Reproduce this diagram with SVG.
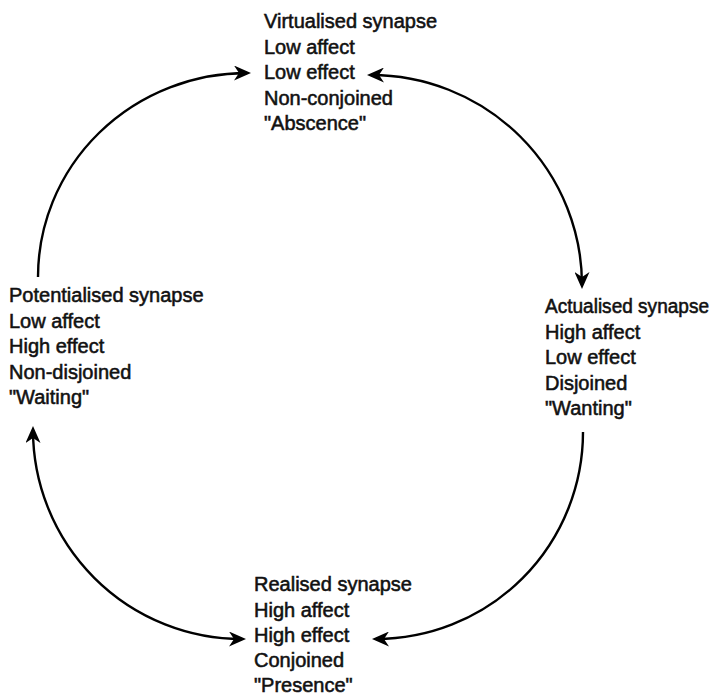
<svg xmlns="http://www.w3.org/2000/svg" width="714" height="696" viewBox="0 0 714 696">
<style>
.t{font-family:"Liberation Sans",Arial,sans-serif;font-size:20px;fill:#111;stroke:#111;stroke-width:0.55}
.c{fill:none;stroke:#000;stroke-width:2.4}
</style>
<defs>
<marker id="ah" viewBox="0 0 17 15" refX="13" refY="7.5" markerWidth="17" markerHeight="15" markerUnits="userSpaceOnUse" orient="auto-start-reverse">
<path d="M17,7.5 L0,0 L5,7.5 L0,15 Z" fill="#000"/>
</marker>
</defs>
<rect width="714" height="696" fill="#fff"/>
<g id="connectors">
<path class="c" d="M38,277 A209,204 0 0,1 247,73" marker-end="url(#ah)"/>
<path class="c" d="M371,75 A211,210 0 0,1 582,285" marker-start="url(#ah)" marker-end="url(#ah)"/>
<path class="c" d="M583,432 A207,207 0 0,1 376,639" marker-end="url(#ah)"/>
<path class="c" d="M33,430 A209,209 0 0,0 242,639" marker-start="url(#ah)" marker-end="url(#ah)"/>
</g>
<g id="virtualised">
<text class="t" x="264" y="28">Virtualised synapse</text>
<text class="t" x="264" y="53.5">Low affect</text>
<text class="t" x="264" y="79">Low effect</text>
<text class="t" x="264" y="104.5">Non-conjoined</text>
<text class="t" x="264" y="130">"Abscence"</text>
</g>
<g id="potentialised">
<text class="t" x="9" y="302">Potentialised synapse</text>
<text class="t" x="9" y="327.5">Low affect</text>
<text class="t" x="9" y="353">High effect</text>
<text class="t" x="9" y="378.5">Non-disjoined</text>
<text class="t" x="9" y="404">"Waiting"</text>
</g>
<g id="actualised">
<text class="t" x="545" y="313" style="font-size:19.5px" textLength="164" lengthAdjust="spacingAndGlyphs">Actualised synapse</text>
<text class="t" x="545" y="338.5">High affect</text>
<text class="t" x="545" y="364">Low effect</text>
<text class="t" x="545" y="389.5">Disjoined</text>
<text class="t" x="545" y="415">"Wanting"</text>
</g>
<g id="realised">
<text class="t" x="254" y="591">Realised synapse</text>
<text class="t" x="254" y="616.5">High affect</text>
<text class="t" x="254" y="642">High effect</text>
<text class="t" x="254" y="667">Conjoined</text>
<text class="t" x="254" y="692">"Presence"</text>
</g>
</svg>
